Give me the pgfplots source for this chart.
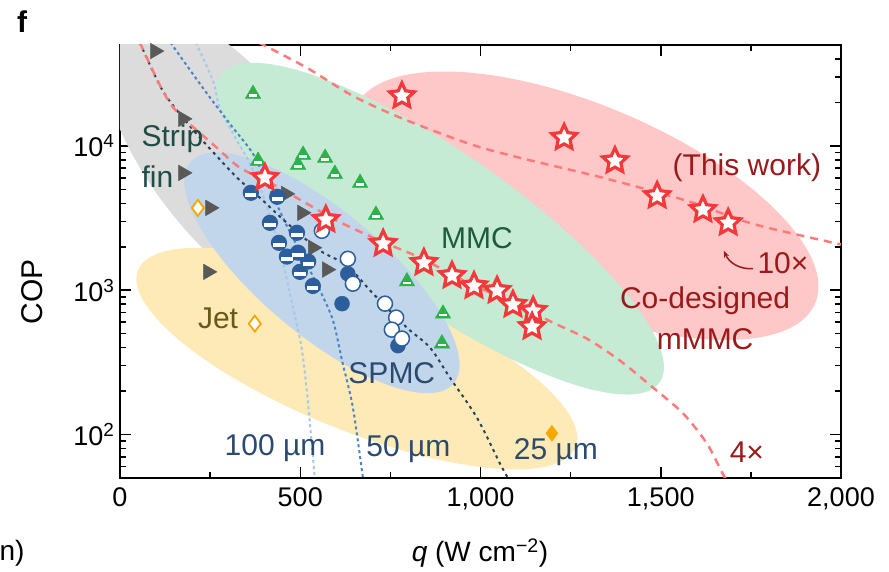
\documentclass[border=0pt]{standalone}
\usepackage{pgfplots}
\pgfplotsset{compat=1.18}
\usetikzlibrary{arrows.meta}
\usepackage{fontspec}
\setmainfont{Liberation Sans}

\definecolor{ellgray}{HTML}{DCDCDC}
\definecolor{ellgreen}{HTML}{C6EBD4}
\definecolor{ellred}{HTML}{FFC8C8}
\definecolor{ellblue}{HTML}{C1D5EB}
\definecolor{ellyellow}{HTML}{FDEAB6}
\definecolor{starred}{HTML}{F5393B}
\definecolor{dashred}{HTML}{FF7A7A}
\definecolor{navy}{HTML}{2C3E5A}
\definecolor{midblue}{HTML}{4C84C4}
\definecolor{lightblue}{HTML}{A5C8EA}
\definecolor{trigreen}{HTML}{2DB24B}
\definecolor{fingray}{HTML}{595959}
\definecolor{jetorange}{HTML}{F5A800}
\definecolor{spmcblue}{HTML}{2B5E9B}
\definecolor{txtred}{HTML}{9A1A1A}
\definecolor{txtblue}{HTML}{2B4A6E}
\definecolor{txtgreen}{HTML}{1E5B3C}
\definecolor{txtteal}{HTML}{1E4D47}
\definecolor{txtjet}{HTML}{6A5817}

% five-pointed star
\pgfdeclareplotmark{fivestar}{%
  \pgfpathmoveto{\pgfpointpolar{90}{\pgfplotmarksize}}%
  \pgfpathlineto{\pgfpointpolar{126}{0.48\pgfplotmarksize}}%
  \pgfpathlineto{\pgfpointpolar{162}{\pgfplotmarksize}}%
  \pgfpathlineto{\pgfpointpolar{198}{0.48\pgfplotmarksize}}%
  \pgfpathlineto{\pgfpointpolar{234}{\pgfplotmarksize}}%
  \pgfpathlineto{\pgfpointpolar{270}{0.48\pgfplotmarksize}}%
  \pgfpathlineto{\pgfpointpolar{306}{\pgfplotmarksize}}%
  \pgfpathlineto{\pgfpointpolar{342}{0.48\pgfplotmarksize}}%
  \pgfpathlineto{\pgfpointpolar{18}{\pgfplotmarksize}}%
  \pgfpathlineto{\pgfpointpolar{54}{0.48\pgfplotmarksize}}%
  \pgfpathclose
  \pgfusepathqfillstroke}
% white bar for the half-filled symbols
\pgfdeclareplotmark{hbar}{%
  \pgfpathrectanglecorners{\pgfpoint{-0.75\pgfplotmarksize}{-0.55\pgfplotmarksize}}{\pgfpoint{0.75\pgfplotmarksize}{-0.05\pgfplotmarksize}}%
  \pgfusepathqfill}

\newcommand{\lbl}{\fontsize{30}{34}\selectfont}

\begin{document}
\begin{tikzpicture}
\begin{axis}[
  scale only axis, width=721pt, height=433pt,
  xmin=0, xmax=2000, ymin=50, ymax=50000, ymode=log,
  xtick={0,500,1000,1500,2000}, minor xtick={250,750,1250,1750},
  ytick={100,1000,10000},
  yticklabels={10\textsuperscript{2},10\textsuperscript{3},10\textsuperscript{4}},
  minor ytick={60,70,80,90,200,300,400,500,600,700,800,900,2000,3000,4000,5000,6000,7000,8000,9000,20000,30000,40000},
  tick align=inside, major tick length=11pt, minor tick length=6pt,
  every tick/.style={black, line width=1.5pt},
  axis line style={line width=1.5pt},
  /pgf/number format/assume math mode=true,
  /pgf/number format/1000 sep={,},
  scaled x ticks=false,
  tick label style={font=\fontsize{27}{30}\selectfont},
  xticklabel style={yshift=-6pt},
  yticklabel style={xshift=-2pt},
]
\coordinate (sw) at (rel axis cs:0,0);
\coordinate (ne) at (rel axis cs:1,1);

% shaded regions
\fill[ellred, rotate around={-23:(axis cs:1290,3850)}] (axis cs:1290,3850) ellipse [x radius=250pt, y radius=100pt];
\fill[ellgray, rotate around={-52:(axis cs:311,7870)}] (axis cs:311,7870) ellipse [x radius=185pt, y radius=80pt];
\fill[ellyellow, rotate around={-22:(axis cs:657,336)}] (axis cs:657,336) ellipse [x radius=236pt, y radius=72pt];
\fill[ellgreen, rotate around={-35:(axis cs:888,2670)}] (axis cs:888,2670) ellipse [x radius=268pt, y radius=76pt];
\fill[ellblue, rotate around={-40:(axis cs:560,1320)}] (axis cs:560,1320) ellipse [x radius=172pt, y radius=62pt];

% guide curves
\addplot[lightblue, line width=2pt, dash pattern=on 3pt off 3pt, smooth] coordinates {
 (210,52000)(258,28200)(277,18300)(325,10800)(361,7500)(402,4160)(444,1880)
 (485,667)(505,381)(521,172)(541,48)(543,45)};
\addplot[midblue, line width=2pt, dash pattern=on 3pt off 3pt, smooth] coordinates {
 (140,52000)(230,25200)(305,14200)(369,8810)(411,5290)(463,2790)(513,1600)
 (555,993)(591,615)(616,325)(646,154)(674,50)(678,45)};
\addplot[navy, line width=2pt, dash pattern=on 3pt off 4pt, smooth] coordinates {
 (55,52000)(119,24000)(194,13700)(255,9240)(325,6010)(388,4370)(466,2880)
 (555,1880)(630,1480)(702,947)(796,550)(860,400)(915,248)(990,131)(1054,63)(1076,50)(1085,45)};
\addplot[dashred, line width=2.5pt, dash pattern=on 8pt off 6pt, smooth] coordinates {
 (55,52000)(119,24000)(161,16900)(269,9690)(333,7050)(422,5460)(519,3970)
 (602,3030)(721,2200)(832,1680)(971,1110)(1110,782)(1201,596)(1295,462)
 (1387,325)(1479,211)(1562,140)(1628,86.7)(1670,54.6)(1690,45)};
\addplot[dashred, line width=2.5pt, dash pattern=on 8pt off 6pt, smooth] coordinates {
 (385,52000)(519,34700)(646,22200)(785,15400)(971,10300)(1110,8260)
 (1340,6010)(1573,4160)(1756,2880)(2010,2050)};

% jet
\addplot[only marks, mark=diamond*, mark size=8pt, draw=jetorange, fill=white, line width=1.8pt]
 coordinates {(216,3720)(374,587)};
\addplot[only marks, mark=diamond*, mark size=8pt, draw=jetorange, fill=jetorange]
 coordinates {(1198,102)};

% strip fin
\addplot[only marks, mark=triangle*, mark size=9pt, mark options={rotate=-90}, draw=fingray, fill=fingray]
 coordinates {(97,45400)(175,15400)(175,6500)(250,3720)(244,1340)(460,4650)(505,3440)(535,1970)(574,1390)};

% SPMC
\addplot[only marks, mark=*, mark size=7.5pt, draw=spmcblue, fill=spmcblue]
 coordinates {(632,1300)(616,807)(771,413)};
\addplot[only marks, mark=*, mark size=7.5pt, draw=spmcblue, fill=spmcblue, line width=1.2pt]
 coordinates {(363,4730)(436,4440)(416,2930)(491,2500)(441,2130)(494,1820)(463,1710)(522,1580)(499,1340)(535,1070)};
\addplot[only marks, mark=hbar, mark size=7.5pt, fill=white, draw=none]
 coordinates {(363,4730)(436,4440)(416,2930)(491,2500)(441,2130)(494,1820)(463,1710)(522,1580)(499,1340)(535,1070)};
\addplot[only marks, mark=*, mark size=7.5pt, draw=spmcblue, fill=white, line width=1.5pt]
 coordinates {(560,2580)(632,1650)(646,1110)(735,807)(766,646)(754,533)(782,462)};

% MMC
\addplot[only marks, mark=triangle*, mark size=9pt, draw=trigreen, fill=trigreen]
 coordinates {(369,22900)(383,7870)(508,8670)(494,7390)(569,8260)(596,6400)(666,5540)(710,3330)(796,1150)(896,687)(893,427)};
\addplot[only marks, mark=hbar, mark size=5pt, fill=white, draw=none]
 coordinates {(369,22900)(383,7870)(508,8670)(494,7390)(569,8260)(596,6400)(666,5540)(710,3330)(796,1150)(896,687)(893,427)};

% mMMC (this work)
\addplot[only marks, mark=fivestar, mark size=13pt, draw=starred, fill=white, line width=3.2pt]
 coordinates {(402,6010)(571,3080)(730,2100)(843,1550)(921,1260)(982,1070)(1046,993)(1090,794)(1146,721)(1143,558)};
\addplot[only marks, mark=fivestar, mark size=13pt, draw=starred, fill=white, line width=3.2pt]
 coordinates {(782,22200)(1232,11400)(1373,7870)(1490,4510)(1617,3610)(1687,2930)};

% annotations
\node[anchor=west, txtteal, font=\lbl] at (axis cs:50,11200) {Strip};
\node[anchor=west, txtteal, font=\lbl] at (axis cs:50,6100) {fin};
\node[txtjet, font=\lbl] at (axis cs:272,635) {Jet};
\node[txtblue, font=\lbl] at (axis cs:754,268) {SPMC};
\node[txtgreen, font=\lbl] at (axis cs:990,2310) {MMC};
\node[txtred, font=\lbl] at (axis cs:1739,7050) {(This work)};
\node[txtred, font=\lbl] at (axis cs:1839,1530) {10×};
\node[txtred, font=\lbl] at (axis cs:1623,845) {Co-designed};
\node[txtred, font=\lbl] at (axis cs:1623,461) {mMMC};
\node[txtred, font=\lbl] at (axis cs:1739,75) {4×};
\node[txtblue, font=\lbl] at (axis cs:430,81) {100 µm};
\node[txtblue, font=\lbl] at (axis cs:800,79) {50 µm};
\node[txtblue, font=\lbl] at (axis cs:1209,75) {25 µm};
\draw[txtred, line width=1.5pt, -{Stealth[length=7pt]}] (axis cs:1756,1410) to[bend left=35] (axis cs:1675,1880);
\end{axis}
\node[font=\lbl, rotate=90] at ([shift={(-88pt,186pt)}]sw) {COP};
\node[font=\fontsize{28}{32}\selectfont] at ([shift={(360pt,-75pt)}]sw) {\textit{q} (W cm\textsuperscript{−2})};
\node[font=\fontsize{30}{34}\selectfont\bfseries] at ([shift={(-98pt,456pt)}]sw) {f};
\node[anchor=west, font=\fontsize{28}{32}\selectfont] at ([shift={(-124pt,-75pt)}]sw) {n)};
\pgfresetboundingbox
\path ([shift={(-120pt,-94pt)}]sw) rectangle ([shift={(48pt,45pt)}]ne);
\end{tikzpicture}
\end{document}
